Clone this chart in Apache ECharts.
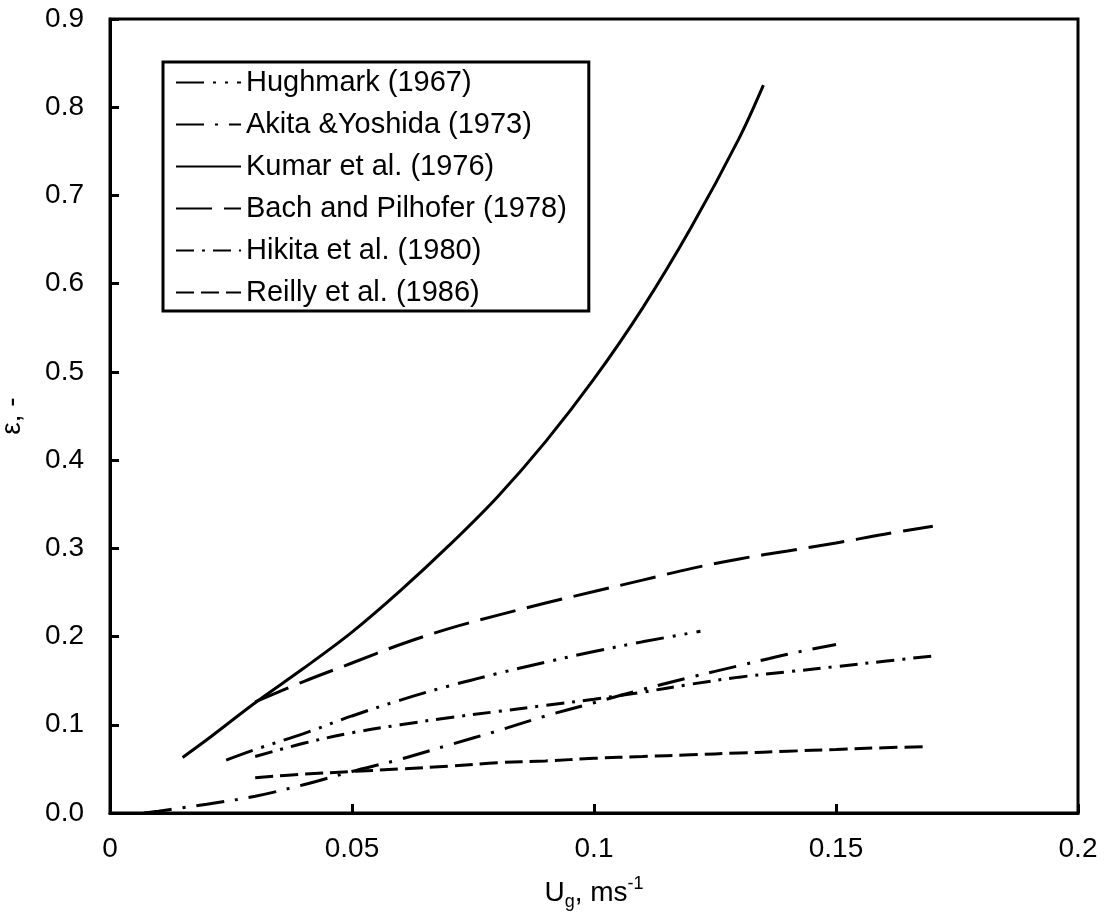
<!DOCTYPE html>
<html>
<head>
<meta charset="utf-8">
<script src="https://cdn.jsdelivr.net/npm/echarts@6/dist/echarts.min.js"></script>
<style>
html,body{margin:0;padding:0;background:#fff;}
#chart{width:1109px;height:913px;}
</style>
</head>
<body>
<div id="chart"></div>
<script>
// ---- data ----
const seriesNames = ["Hughmark (1967)", "Akita &Yoshida (1973)", "Kumar et al. (1976)", "Bach and Pilhofer (1978)", "Hikita et al. (1980)", "Reilly et al. (1986)"];

const hughmarkX = [0.024, 0.03, 0.04, 0.05, 0.06, 0.07, 0.08, 0.09, 0.10, 0.11, 0.122];
const hughmarkY = [0.060, 0.072, 0.090, 0.110, 0.128, 0.144, 0.158, 0.171, 0.183, 0.194, 0.206];

const akitaX = [0.007, 0.01, 0.015, 0.02, 0.03, 0.04, 0.05, 0.06, 0.07, 0.08, 0.09, 0.10, 0.11, 0.12, 0.13, 0.14, 0.15];
const akitaY = [0.000, 0.002, 0.006, 0.010, 0.019, 0.032, 0.047, 0.061, 0.077, 0.093, 0.110, 0.125, 0.140, 0.154, 0.167, 0.180, 0.191];

const kumarX = [0.015, 0.02, 0.03, 0.04, 0.05, 0.06, 0.07, 0.08, 0.09, 0.10, 0.11, 0.12, 0.13, 0.135];
const kumarY = [0.063, 0.083, 0.125, 0.164, 0.205, 0.252, 0.303, 0.358, 0.421, 0.492, 0.572, 0.663, 0.765, 0.825];

const bachX = [0.03, 0.04, 0.05, 0.06, 0.07, 0.08, 0.09, 0.10, 0.11, 0.12, 0.13, 0.14, 0.15, 0.16, 0.17];
const bachY = [0.126, 0.149, 0.170, 0.191, 0.209, 0.224, 0.238, 0.251, 0.264, 0.277, 0.288, 0.297, 0.306, 0.316, 0.325];

const hikitaX = [0.03, 0.04, 0.05, 0.06, 0.07, 0.08, 0.09, 0.10, 0.11, 0.12, 0.13, 0.14, 0.15, 0.16, 0.17];
const hikitaY = [0.064, 0.079, 0.091, 0.100, 0.108, 0.115, 0.122, 0.129, 0.137, 0.146, 0.154, 0.160, 0.166, 0.172, 0.178];

const reillyX = [0.03, 0.04, 0.05, 0.06, 0.07, 0.08, 0.09, 0.10, 0.11, 0.12, 0.13, 0.14, 0.15, 0.16, 0.168];
const reillyY = [0.040, 0.044, 0.047, 0.050, 0.053, 0.057, 0.059, 0.062, 0.064, 0.066, 0.068, 0.070, 0.072, 0.074, 0.075];

const xTicks = {min: 0, max: 0.2, interval: 0.05};
const yTicks = {min: 0, max: 0.9, interval: 0.1};

// ---- build ----
const FONT = "'Liberation Sans', Arial, sans-serif";
function pairs(xs, ys){ return xs.map((x,i)=>[x, ys[i]]); }

const allData = [
  pairs(hughmarkX, hughmarkY),
  pairs(akitaX, akitaY),
  pairs(kumarX, kumarY),
  pairs(bachX, bachY),
  pairs(hikitaX, hikitaY),
  pairs(reillyX, reillyY)
];
const dashes = [
  [28, 9, 3, 9, 3, 9],
  [28, 11, 3, 11],
  'solid',
  [36, 12],
  [18, 8, 3, 8],
  [18, 7]
];

const series = seriesNames.map((name, i) => ({
  name: name,
  type: 'line',
  data: allData[i],
  symbol: 'none',
  smooth: 0.35,
  lineStyle: {color: '#000', width: 3, type: dashes[i]},
  itemStyle: {color: '#000'},
  emphasis: {disabled: true}
}));

const chart = echarts.init(document.getElementById('chart'), null, {renderer: 'canvas'});
chart.setOption({
  animation: false,
  backgroundColor: '#fff',
  grid: {left: 110, right: 31, top: 19, bottom: 100, show: true, borderColor: '#000', borderWidth: 3, containLabel: false, outerBoundsMode: 'none'},
  legend: {
    orient: 'vertical',
    left: 163, top: 62,
    data: seriesNames,
    itemWidth: 65, itemHeight: 14,
    itemGap: 13,
    padding: [6, 22, 4, 12],
    borderColor: '#000', borderWidth: 3,
    backgroundColor: '#fff',
    itemStyle: {opacity: 0},
    textStyle: {fontFamily: FONT, fontSize: 29, color: '#000'},
    selectedMode: false
  },
  xAxis: {
    type: 'value',
    min: xTicks.min, max: xTicks.max, interval: xTicks.interval,
    name: '{a|U}{s|g}{a|, ms}{p|-1}',
    nameLocation: 'middle', nameGap: 62,
    nameTextStyle: {
      fontFamily: FONT, color: '#000',
      rich: {
        a: {fontFamily: FONT, fontSize: 28, color: '#000', lineHeight: 36},
        s: {fontFamily: FONT, fontSize: 18, color: '#000', lineHeight: 16, verticalAlign: 'bottom'},
        p: {fontFamily: FONT, fontSize: 18, color: '#000', lineHeight: 16, verticalAlign: 'top'}
      }
    },
    axisLine: {show: true, lineStyle: {color: '#000', width: 3}},
    axisTick: {show: true, inside: true, length: 9, lineStyle: {color: '#000', width: 3}},
    axisLabel: {fontFamily: FONT, fontSize: 28, color: '#000', margin: 22},
    splitLine: {show: false}
  },
  yAxis: {
    type: 'value',
    min: yTicks.min, max: yTicks.max, interval: yTicks.interval,
    name: 'ε, -',
    nameLocation: 'middle', nameGap: 84, nameRotate: 90,
    nameTextStyle: {fontFamily: FONT, fontSize: 28, color: '#000'},
    axisLine: {show: true, lineStyle: {color: '#000', width: 3}},
    axisTick: {show: true, inside: true, length: 9, lineStyle: {color: '#000', width: 3}},
    axisLabel: {fontFamily: FONT, fontSize: 28, color: '#000', margin: 26, formatter: v => v.toFixed(1)},
    splitLine: {show: false}
  },
  series: series
});
</script>
</body>
</html>
